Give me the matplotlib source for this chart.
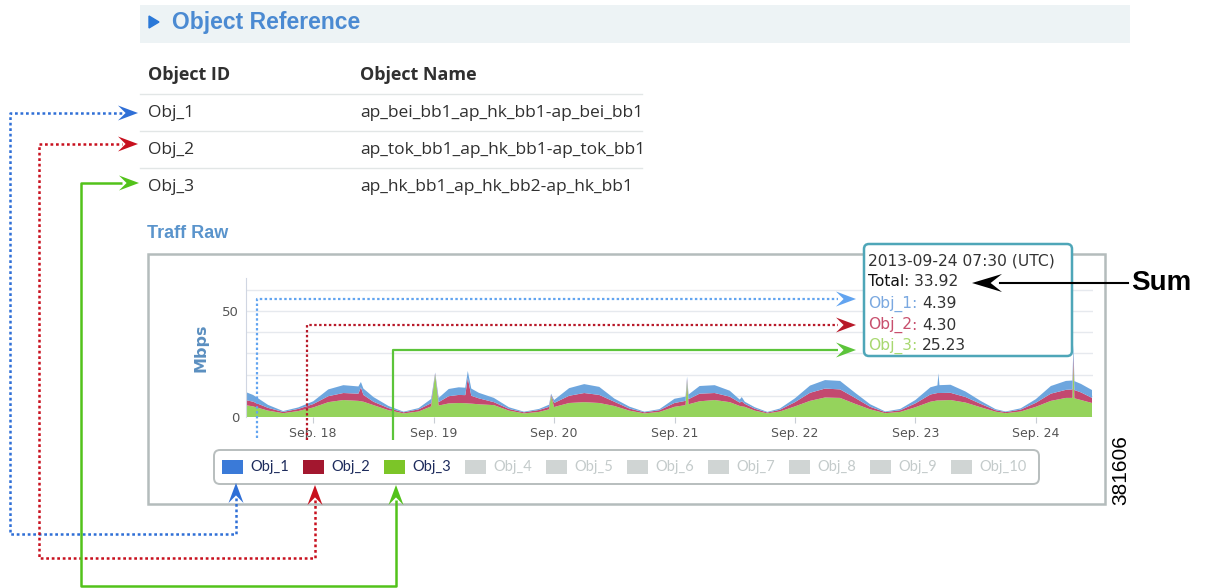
import matplotlib
matplotlib.use("Agg")
import matplotlib.pyplot as plt
from matplotlib.patches import FancyBboxPatch, Rectangle, Polygon

# ---- data ----
# hours since 2013-09-17 00:00 UTC
hours = [10.5, 12, 15, 18, 21,
         24, 27, 30, 33, 33.5, 34, 36, 39, 42, 45,
         47.5, 48.3, 49, 51, 53, 54.3, 54.8, 55.5, 57, 60, 63, 66, 69, 71, 71.4,
         72, 75, 78, 81, 84, 87, 90, 93,
         96, 98.2, 98.5, 98.8, 101, 104, 107, 109, 109.4, 110, 112, 114.5, 117,
         120, 123, 126, 129, 132, 135, 138, 141,
         144, 147, 148.4, 148.6, 148.8, 151, 154, 157, 160, 162, 165,
         168, 171, 174, 175.3, 175.5, 175.7, 177, 179.2]
obj3 = [5.6, 5.0, 3.0, 1.8, 2.8,
        4.5, 7.0, 8.0, 7.6, 7.4, 7.2, 5.6, 3.2, 1.7, 2.6,
        5.0, 20.0, 5.4, 6.4, 6.6, 6.5, 6.4, 6.3, 6.0, 5.6, 3.0, 1.7, 2.4, 3.6, 10.0,
        4.7, 6.6, 7.0, 6.6, 5.2, 3.0, 1.7, 2.4,
        4.8, 5.6, 17.0, 6.0, 7.4, 8.0, 7.0, 5.2, 5.0, 4.8, 3.0, 1.7, 2.6,
        5.0, 7.6, 9.2, 9.0, 6.2, 3.6, 1.8, 2.4,
        4.6, 7.2, 7.8, 7.8, 7.8, 8.0, 6.8, 4.6, 2.5, 1.8, 2.6,
        4.8, 7.6, 9.0, 9.0, 25.23, 8.8, 8.0, 6.6]
obj2 = [2.4, 2.2, 1.3, 0.6, 1.0,
        1.6, 2.8, 3.3, 3.4, 6.6, 3.2, 1.6, 1.0, 0.5, 1.0,
        1.5, 0.5, 1.6, 3.4, 3.8, 3.8, 12.0, 3.7, 2.8, 1.4, 0.8, 0.5, 0.9, 1.2, 0.5,
        1.9, 3.4, 4.3, 3.8, 2.0, 1.0, 0.5, 0.8,
        1.8, 2.0, 1.0, 2.4, 3.6, 3.3, 2.6, 1.6, 2.4, 1.4, 0.9, 0.4, 0.8,
        2.0, 3.8, 4.2, 4.0, 2.8, 1.2, 0.5, 0.8,
        1.8, 3.4, 3.5, 3.5, 3.5, 3.4, 2.6, 1.6, 0.7, 0.5, 0.9,
        1.9, 3.4, 3.8, 4.0, 4.30, 3.9, 3.6, 2.4]
obj1 = [3.8, 3.2, 1.4, 0.4, 0.7,
        1.3, 3.2, 3.7, 3.4, 2.5, 3.0, 2.2, 1.0, 0.3, 0.6,
        2.0, 0.5, 2.0, 3.4, 3.6, 3.5, 3.3, 3.4, 2.6, 2.0, 0.8, 0.3, 0.5, 1.0, 0.5,
        1.4, 3.6, 4.2, 3.8, 1.5, 0.9, 0.3, 0.5,
        2.0, 2.0, 1.0, 2.2, 3.6, 3.7, 2.8, 1.4, 2.0, 1.0, 0.7, 0.3, 0.6,
        1.8, 3.4, 4.0, 4.0, 2.4, 1.2, 0.3, 0.6,
        1.6, 3.4, 3.6, 9.3, 3.7, 3.8, 2.6, 1.4, 0.5, 0.3, 0.6,
        1.7, 3.6, 4.2, 4.2, 4.39, 4.2, 4.0, 3.7]

day_ticks = [24, 48, 72, 96, 120, 144, 168]
day_labels = ["Sep. 18", "Sep. 19", "Sep. 20", "Sep. 21", "Sep. 22", "Sep. 23", "Sep. 24"]

obj_ids = ["Obj_1", "Obj_2", "Obj_3"]
obj_names = ["ap_bei_bb1_ap_hk_bb1-ap_bei_bb1",
             "ap_tok_bb1_ap_hk_bb1-ap_tok_bb1",
             "ap_hk_bb1_ap_hk_bb2-ap_hk_bb1"]
legend_names = ["Obj_%d" % i for i in range(1, 11)]

tip_time = "2013-09-24 07:30 (UTC)"
tip_total = "33.92"
tip_values = ["4.39", "4.30", "25.23"]

area_colors = ["#95d35c", "#c3496f", "#6ea6de"]   # obj3, obj2, obj1
swatch_colors = ["#3a7ad8", "#a3172f", "#7cc528"]
tip_colors = ["#7aa8e0", "#c8506e", "#a8d870"]
arrow_tab = ["#2f6fd6", "#c8101e", "#52c21a"]
arrow_chart = ["#62a4f0", "#b81a2a", "#5cc43a"]

W, H = 1214, 588
fig = plt.figure(figsize=(W / 100, H / 100), dpi=100)

# background layer in pixel coordinates
bg = fig.add_axes([0, 0, 1, 1])
bg.set_xlim(0, W)
bg.set_ylim(H, 0)
bg.axis("off")

# header band
bg.add_patch(Rectangle((140, 5), 990, 38, color="#edf3f5", lw=0))
bg.add_patch(Polygon([(149, 16), (149, 28), (159, 22)], color="#2a78d8"))
bg.text(172, 23, "Object Reference", fontsize=16.5, fontweight="bold",
        family="Liberation Sans", color="#4b8ad2", va="center")

# table
tfont = dict(family="Open Sans", color="#303030", va="center")
bg.text(148, 75, "Object ID", fontweight="bold", fontsize=13, **tfont)
bg.text(360, 75, "Object Name", fontweight="bold", fontsize=13, **tfont)
row_y = [113, 150, 187]
for i, y in enumerate(row_y):
    bg.plot([140, 642], [y - 19, y - 19], color="#e2e6e6", lw=1)
    bg.text(148, y, obj_ids[i], fontsize=12.5, **tfont)
    bg.text(360, y, obj_names[i], fontsize=12.5, **tfont)

bg.text(147, 233, "Traff Raw", fontsize=13, fontweight="bold",
        family="Liberation Sans", color="#5a94cc", va="center")

# chart frame
bg.add_patch(Rectangle((148, 254), 957, 250, fill=False, ec="#b4bcbc", lw=1.8))

# legend widget
bg.add_patch(FancyBboxPatch((214, 450), 825, 34, boxstyle="round,pad=0,rounding_size=6",
                            fc="white", ec="#b8bebe", lw=1.4))
for i, name in enumerate(legend_names):
    x0 = 222 + i * 81
    on = i < 3
    bg.add_patch(Rectangle((x0, 460), 21, 14,
                           color=swatch_colors[i] if on else "#d0d5d4", lw=0))
    bg.text(x0 + 28, 467, name, fontsize=10.5, family="Lato",
            color="#1d2b5c" if on else "#c4cbcb", va="center")

bg.text(1121, 470, "381606", rotation=90, fontsize=15, family="Liberation Sans",
        color="black", ha="center", va="center")

# ---- the chart itself ----
left, right, top, bottom = 246, 1093, 278, 417
ax = fig.add_axes([left / W, (H - bottom) / H, (right - left) / W, (bottom - top) / H])
ax.stackplot(hours, obj3, obj2, obj1, colors=area_colors, lw=0)
ax.set_xlim(10.6, 179.4)
ax.set_ylim(0, 65.5)
ax.set_yticks([0, 50])
ax.set_yticks([10, 20, 30, 40, 60], minor=True)
ax.yaxis.grid(True, which="both", color="#e6e9ee", lw=1)
ax.set_axisbelow(True)
ax.tick_params(axis="y", which="both", length=0, labelsize=9.5, labelcolor="#555555", pad=5)
ax.set_xticks(day_ticks)
ax.set_xticklabels(day_labels, family="DejaVu Sans")
ax.tick_params(axis="x", length=4, color="#c8cdd4", labelsize=9,
               labelcolor="#555555", pad=3)
for s in ["top", "right", "bottom"]:
    ax.spines[s].set_visible(False)
ax.spines["left"].set_color("#d0d6e2")
ax.set_ylabel("Mbps", fontsize=11.5, fontweight="bold", color="#5b8fc0", labelpad=10)

# ---- overlay layer for callouts ----
ov = fig.add_axes([0, 0, 1, 1])
ov.set_xlim(0, W)
ov.set_ylim(H, 0)
ov.axis("off")
ov.patch.set_alpha(0)


def head(x, y, dx, dy, color, size=20, width=15):
    # notched arrow head with its tip at (x, y), pointing along (dx, dy)
    px, py = -dy, dx
    hw = width / 2
    pts = [(x, y),
           (x - dx * size + px * hw, y - dy * size + py * hw),
           (x - dx * size * 0.62, y - dy * size * 0.62),
           (x - dx * size - px * hw, y - dy * size - py * hw)]
    ov.add_patch(Polygon(pts, closed=True, color=color, lw=0, zorder=9))


dot = (0, (1.1, 1.1))
# table <-> legend connectors
paths = [([236, 236, 10, 10, 122], [498, 534, 534, 113, 113]),
         ([315, 315, 39, 39, 122], [500, 558, 558, 144, 144]),
         ([396, 396, 81, 81, 122], [500, 586, 586, 183, 183])]
leg_tips = [(236, 483), (315, 485), (396, 485)]
tab_tips = [(138, 113), (138, 144), (139, 183)]
for i in range(3):
    xs, ys = paths[i]
    ov.plot(xs, ys, color=arrow_tab[i], lw=1.8, ls=dot if i < 2 else "-",
            solid_capstyle="butt")
    head(tab_tips[i][0], tab_tips[i][1], 1, 0, arrow_tab[i])
    head(leg_tips[i][0], leg_tips[i][1], 0, -1, arrow_tab[i])

# chart callouts to tooltip
chart_paths = [(257, 438, 299), (307, 440, 325), (393, 440, 350)]
for i, (cx, cy0, cy1) in enumerate(chart_paths):
    ov.plot([cx, cx, 838], [cy0, cy1, cy1], color=arrow_chart[i], lw=1.6,
            ls=dot if i < 2 else "-", solid_capstyle="butt")
    head(856, cy1, 1, 0, arrow_chart[i])

# tooltip
ov.add_patch(FancyBboxPatch((864, 244), 208, 112, boxstyle="round,pad=0,rounding_size=5",
                            fc="white", ec="#4ea6b8", lw=1.8, zorder=4))
tsize = 11.2
tf = dict(family="DejaVu Sans", fontsize=tsize, va="center", zorder=7)
ov.text(868, 261, tip_time, color="#333333", **tf)
t = ov.text(868, 282, "Total", color="#111111", **tf)
ov.annotate(": " + tip_total, xycoords=t, xy=(1, 0.5), va="center",
            family="DejaVu Sans", fontsize=tsize, color="#333333", zorder=7)
for i in range(3):
    t = ov.text(868, 304 + 21 * i, obj_ids[i], color=tip_colors[i], **tf)
    c = ov.annotate(": ", xycoords=t, xy=(1, 0.5), va="center",
                    family="DejaVu Sans", fontsize=tsize, color=tip_colors[i], zorder=7)
    ov.annotate(tip_values[i], xycoords=c, xy=(1, 0.5), va="center",
                family="DejaVu Sans", fontsize=tsize, color="#333333", zorder=7)

# Sum callout
ov.plot([1000, 1128], [283, 283], color="black", lw=1.5, zorder=8)
head(972, 283, -1, 0, "black", size=30, width=18)
ov.text(1131, 283, "Sum", fontsize=20, fontweight="bold", family="Liberation Sans",
        va="center", color="black")

fig.savefig("out.png", dpi=100)
